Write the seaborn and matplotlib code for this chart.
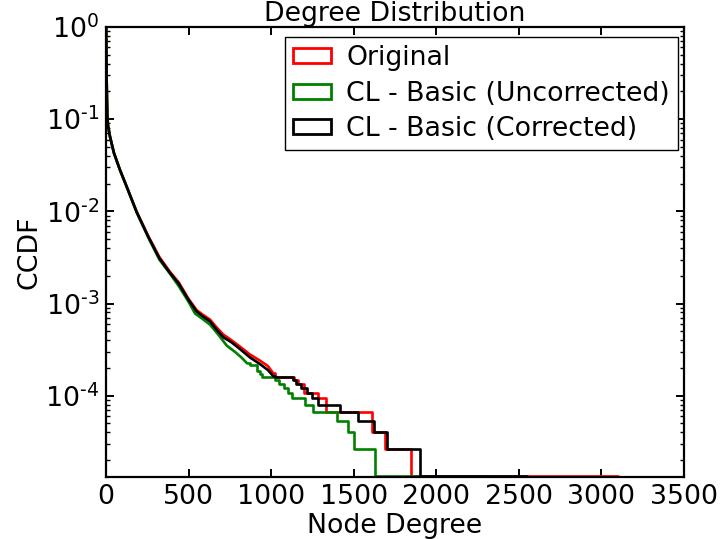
import numpy as np
import pandas as pd
import matplotlib
matplotlib.use("Agg")
import matplotlib.pyplot as plt
from matplotlib.patches import Patch
from matplotlib.ticker import LogLocator, NullFormatter, MultipleLocator, FuncFormatter
import seaborn as sns

# Number of nodes: the CCDF tail moves in steps of 1 / N_NODES
N_NODES = 75000

# Smooth (dense) part of each CCDF: node degree -> P(degree >= k)
orig_head_deg = [1, 2, 3, 4, 6, 8, 12, 24, 48, 85, 125, 186, 256, 323, 388, 440,
                 499, 549, 580, 630, 670, 711, 760, 812, 872, 933, 980, 1013]
orig_head_ccdf = [1.0, 0.55, 0.37, 0.27, 0.16, 0.11, 0.085, 0.065, 0.043, 0.028,
                  0.0186, 0.0099, 0.0054, 0.0032, 0.0022, 0.0017, 0.00113, 0.00085,
                  0.00077, 0.00067, 0.00055, 0.00046, 0.00040, 0.00034, 0.00028,
                  0.00024, 0.00021, 0.000175]

uncorr_head_deg = [1, 2, 3, 4, 6, 8, 12, 24, 48, 85, 125, 186, 256, 323, 388, 440,
                   499, 539, 580, 630, 680, 731, 780, 820, 852]
uncorr_head_ccdf = [1.0, 0.55, 0.37, 0.27, 0.16, 0.11, 0.085, 0.065, 0.043, 0.028,
                    0.0185, 0.0097, 0.0052, 0.0030, 0.0021, 0.00155, 0.00105, 0.00078,
                    0.00069, 0.00059, 0.00046, 0.00035, 0.00030, 0.00026, 0.000227]

corr_head_deg = [1, 2, 3, 4, 6, 8, 12, 24, 48, 85, 125, 186, 256, 323, 388, 440,
                 499, 549, 580, 630, 670, 711, 760, 812, 872, 933, 980, 1013]
corr_head_ccdf = [1.0, 0.55, 0.37, 0.27, 0.16, 0.11, 0.085, 0.065, 0.043, 0.028,
                  0.0186, 0.0098, 0.0053, 0.0031, 0.00214, 0.00165, 0.00110, 0.00082,
                  0.00074, 0.00064, 0.00052, 0.00043, 0.00038, 0.00032, 0.00026,
                  0.00022, 0.00019, 0.000163]

# Sparse tail: degree where a step starts and number of nodes at or above it
orig_tail_deg = [1024, 1140, 1160, 1200, 1286, 1332, 1609, 1690, 1845, 3100]
orig_tail_count = [12, 11, 10, 8, 7, 5, 3, 2, 1, 1]

uncorr_tail_deg = [872, 912, 930, 943, 1024, 1050, 1080, 1100, 1125, 1205, 1256,
                   1397, 1468, 1502, 1630, 2300]
uncorr_tail_count = [16, 14, 13, 12, 11, 10, 9, 8, 7, 6, 5, 4, 3, 2, 1, 1]

corr_tail_deg = [1024, 1131, 1150, 1180, 1215, 1250, 1286, 1417, 1528, 1620, 1700,
                 1900, 2550]
corr_tail_count = [12, 11, 10, 9, 8, 7, 6, 5, 4, 3, 2, 1, 1]

series = [
    ("Original", "#ff0000", orig_head_deg, orig_head_ccdf, orig_tail_deg, orig_tail_count),
    ("CL - Basic (Uncorrected)", "#008000", uncorr_head_deg, uncorr_head_ccdf,
     uncorr_tail_deg, uncorr_tail_count),
    ("CL - Basic (Corrected)", "#000000", corr_head_deg, corr_head_ccdf,
     corr_tail_deg, corr_tail_count),
]

sns.set_style("ticks")
FS = 19.3
plt.rcParams["font.family"] = ["DejaVu Sans"]
plt.rcParams["mathtext.fontset"] = "dejavusans"
plt.rcParams["text.color"] = "black"
plt.rcParams["axes.labelcolor"] = "black"

fig = plt.figure(figsize=(7.24, 5.39), dpi=100)
ax = fig.add_axes([106 / 724, 1 - 477 / 539, 578 / 724, 450 / 539])

LW = 1.9
for label, color, hd, hc, td, tc in series:
    head = pd.DataFrame({"degree": hd, "ccdf": hc})
    tail = pd.DataFrame({"degree": [hd[-1]] + td,
                         "ccdf": [hc[-1]] + [c / N_NODES for c in tc]})
    sns.lineplot(data=head, x="degree", y="ccdf", color=color, lw=LW,
                 estimator=None, sort=False, ax=ax)
    sns.lineplot(data=tail, x="degree", y="ccdf", color=color, lw=LW,
                 estimator=None, sort=False, drawstyle="steps-post", ax=ax)

ax.set_yscale("log")
ax.set_xlim(0, 3500)
ax.set_ylim(0.985 / N_NODES, 1.0)
ax.xaxis.set_major_locator(MultipleLocator(500))
ax.yaxis.set_major_locator(LogLocator(base=10, numticks=10))
ax.yaxis.set_minor_locator(LogLocator(base=10, subs=np.arange(2, 10), numticks=20))
ax.yaxis.set_minor_formatter(NullFormatter())


def decade_label(v, pos):
    e = int(round(np.log10(v)))
    if e < 0:
        return r"$\mathdefault{10^{\text{-}%d}}$" % (-e)
    return r"$\mathdefault{10^{%d}}$" % e


ax.yaxis.set_major_formatter(FuncFormatter(decade_label))

for sp in ax.spines.values():
    sp.set_linewidth(1.6)
    sp.set_color("black")
    sp.set_visible(True)

ax.tick_params(which="both", direction="in", top=True, right=True,
               labelsize=FS, colors="black")
ax.tick_params(which="major", length=6, width=1.4, pad=5)
ax.tick_params(which="minor", length=3, width=1.0)

ax.set_xlabel("Node Degree", fontsize=FS, labelpad=2)
ax.set_ylabel("CCDF", fontsize=FS, labelpad=2)
ax.set_title("Degree Distribution", fontsize=FS, pad=4)

handles = [Patch(facecolor="white", edgecolor=c, linewidth=2, label=l)
           for l, c, *_ in series]
leg = ax.legend(handles=handles, loc="upper right",
                bbox_to_anchor=(678 / 724, 1 - 37 / 539),
                bbox_transform=fig.transFigure, borderaxespad=0,
                fontsize=FS, frameon=True, fancybox=False, framealpha=1,
                edgecolor="black", handlelength=1.45, handleheight=0.5,
                handletextpad=0.55, borderpad=0.3, labelspacing=0.36)
leg.get_frame().set_linewidth(1.0)
for t in leg.get_texts():
    t.set_color("black")

fig.savefig("out.png", dpi=100)
